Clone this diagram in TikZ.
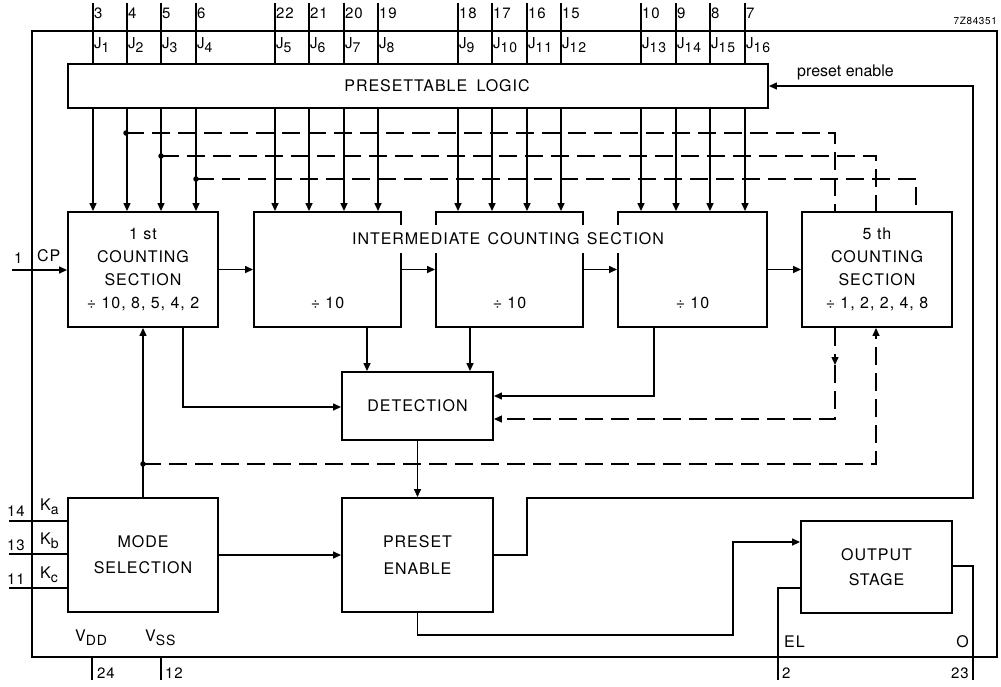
\documentclass[tikz,border=0pt]{standalone}
\usepackage{fontspec}
\setmainfont{TeX Gyre Heros}[LetterSpace=6]
\newfontfamily\plainfont{TeX Gyre Heros}
\usetikzlibrary{arrows.meta}
\newcommand\sbs[1]{\raisebox{-4pt}{\fontsize{14}{14}\selectfont #1}}
\begin{document}
\begin{tikzpicture}[x=1pt,y=-1pt,
  box/.style={draw, line width=1.9pt, rectangle, inner sep=0pt, align=center},
  conn/.style={line width=1.4pt},
  arr/.style={conn, -{Triangle[length=8pt,width=7pt]}},
  dsh/.style={conn, dash pattern=on 18pt off 8pt},
  lbl/.style={font=\fontsize{16}{23}\selectfont},
  pinlbl/.style={font=\fontsize{15}{15}\selectfont, anchor=base west, inner sep=1pt},
  dot/.style={circle, fill, inner sep=0pt, minimum size=5.5pt}]
\useasboundingbox (0,0) rectangle (1001,686);
% chip outline
\node[box, minimum width=965, minimum height=626] (chip) at (514.5,344) {};
% main blocks
\node[box, minimum width=700, minimum height=44] (PL) at (418,86) {};
\node[lbl] (PLt) at (437,86) {PRESETTABLE\hspace{4pt} LOGIC};
\node[box, minimum width=150, minimum height=115, lbl] (c1) at (143,269.5) {1 st\\COUNTING\\SECTION\\÷ 10, 8, 5, 4, 2};
\node[box, minimum width=147, minimum height=115] (c2) at (327.5,269.5) {};
\node[box, minimum width=147, minimum height=115] (c3) at (509.5,269.5) {};
\node[box, minimum width=149, minimum height=115] (c4) at (692.5,269.5) {};
\node[box, minimum width=150, minimum height=115, lbl] (c5) at (877,269.5) {5 th\\COUNTING\\SECTION\\÷ 1, 2, 2, 4, 8};
\node[lbl] (d2) at (327.5,303) {÷ 10};
\node[lbl] (d3) at (509.5,303) {÷ 10};
\node[lbl] (d4) at (692.5,303) {÷ 10};
\node[lbl, fill=white, inner xsep=3pt, inner ysep=0pt, minimum height=28] (ics) at (508,239) {INTERMEDIATE\hspace{2pt} COUNTING\hspace{2pt} SECTION};
\node[box, minimum width=151, minimum height=68, lbl] (DET) at (417.5,406) {DETECTION};
\node[box, minimum width=151, minimum height=114, lbl] (PE) at (417.5,555) {PRESET\\[4pt]ENABLE};
\node[box, minimum width=150, minimum height=114, lbl] (MS) at (143,555) {MODE\\[3pt]SELECTION};
\node[box, minimum width=151, minimum height=92, lbl] (OS) at (876.5,567) {OUTPUT\\[2pt]STAGE};
% top pins
\foreach \x/\n/\j/\b in {93/3/1/c1, 127/4/2/c1, 161/5/3/c1, 196/6/4/c1,
  275/22/5/c2, 309/21/6/c2, 344/20/7/c2, 378/19/8/c2,
  458/18/9/c3, 492/17/10/c3, 527/16/11/c3, 561/15/12/c3,
  641/10/13/c4, 676/9/14/c4, 710/8/15/c4, 745/7/16/c4}{
  \coordinate (t\j) at (\x,3);
  \draw[conn] (t\j) -- (PL.north -| t\j);
  \node[pinlbl] (pn\j) at (\x,18) {\n};
  \node[pinlbl] (jl\j) at (\x,48) {J\sbs{\j}};
  \draw[arr] (PL.south -| t\j) -- (\b.north -| t\j);
}
\node[font=\fontsize{10}{10}\selectfont, anchor=base east, inner sep=0pt] (code) at (997,24) {7Z84351};
% dashed feedback lines
\node[dot] (dt1) at (126,133) {};
\node[dot] (dt2) at (161,156) {};
\node[dot] (dt3) at (196,179) {};
\coordinate (v1) at (835,133);
\coordinate (v2) at (876,156);
\coordinate (v3) at (916,179);
\draw[dsh] (dt1.center) -- (v1) -- (c5.north -| v1);
\draw[dsh] (dt2.center) -- (v2) -- (c5.north -| v2);
\draw[dsh] (dt3.center) -- (v3) -- (c5.north -| v3);
\coordinate (v4) at (835,365);
\coordinate (v5) at (835,419);
\draw[dsh, -{Triangle[length=8pt,width=7pt]}] (c5.south -| v4) -- (v4);
\draw[dsh, -{Triangle[length=8pt,width=7pt]}] (v4) -- (v5) -- (DET.east |- v5);
\node[dot] (dt4) at (143,464) {};
\coordinate (v6) at (876,464);
\draw[dsh, -{Triangle[length=8pt,width=7pt]}] (dt4.center) -- (v6) -- (c5.south -| v6);
% solid connectors
\coordinate (cpin) at (12,270);
\draw[arr] (cpin) -- (c1.west |- cpin);
\draw[arr] (c1.east) -- (c2.west);
\draw[arr] (c2.east) -- (c3.west);
\draw[arr] (c3.east) -- (c4.west);
\draw[arr] (c4.east) -- (c5.west);
\draw[arr] (MS.north) -- (c1.south);
\coordinate (w1) at (183,407);
\draw[arr] (c1.south -| w1) -- (w1) -- (DET.west |- w1);
\coordinate (w2) at (367,0);
\coordinate (w3) at (470,0);
\draw[arr] (c2.south -| w2) -- (DET.north -| w2);
\draw[arr] (c3.south -| w3) -- (DET.north -| w3);
\coordinate (w4) at (654,396);
\draw[arr] (c4.south -| w4) -- (w4) -- (DET.east |- w4);
\draw[arr] (DET.south) -- (PE.north);
\draw[arr] (MS.east) -- (PE.west);
\coordinate (w5) at (527,498);
\coordinate (w6) at (973,498);
\draw[arr] (PE.east) -- (PE.east -| w5) -- (w5) -- (w6) -- (PL.east -| w6) -- (PL.east);
\coordinate (w8) at (733,635);
\coordinate (w9) at (733,542);
\draw[arr] (PE.south) -- (PE.south |- w8) -- (w8) -- (w9) -- (OS.west |- w9);
\coordinate (el) at (778,588);
\coordinate (elp) at (778,680);
\draw[conn] (OS.west |- el) -- (el) -- (elp);
\coordinate (o1) at (973,566);
\coordinate (op) at (973,680);
\draw[conn] (OS.east |- o1) -- (o1) -- (op);
\coordinate (vdd) at (92,680);
\coordinate (vss) at (161,680);
\draw[conn] (chip.south -| vdd) -- (vdd);
\draw[conn] (chip.south -| vss) -- (vss);
\coordinate (ka) at (9,521);
\coordinate (kb) at (9,554);
\coordinate (kc) at (9,588);
\draw[conn] (ka) -- (MS.west |- ka);
\draw[conn] (kb) -- (MS.west |- kb);
\draw[conn] (kc) -- (MS.west |- kc);
% labels
\node[pinlbl] (l1) at (13,263) {1};
\node[pinlbl, font=\fontsize{16}{16}\selectfont] (lcp) at (36,261) {CP};
\node[pinlbl] (l14) at (6,516) {14};
\node[pinlbl] (l13) at (6,550) {13};
\node[pinlbl] (l11) at (6,584) {11};
\node[pinlbl, font=\fontsize{16}{16}\selectfont] (lka) at (39,510) {K\sbs{a}};
\node[pinlbl, font=\fontsize{16}{16}\selectfont] (lkb) at (39,544) {K\sbs{b}};
\node[pinlbl, font=\fontsize{16}{16}\selectfont] (lkc) at (39,578) {K\sbs{c}};
\node[pinlbl, font=\fontsize{16}{16}\selectfont] (lvdd) at (74,641) {V\sbs{DD}};
\node[pinlbl, font=\fontsize{16}{16}\selectfont] (lvss) at (144,641) {V\sbs{SS}};
\node[pinlbl] (l24) at (96,678) {24};
\node[pinlbl] (l12) at (164,678) {12};
\node[pinlbl, font=\fontsize{16}{16}\selectfont] (lel) at (783,647) {EL};
\node[pinlbl] (l2) at (781,678) {2};
\node[pinlbl, anchor=base east, font=\fontsize{16}{16}\selectfont] (lo) at (970,647) {O};
\node[pinlbl, anchor=base east] (l23) at (970,678) {23};
\node[pinlbl, font=\fontsize{16}{16}\plainfont] (lpe) at (796,76) {preset enable};
\end{tikzpicture}
\end{document}
